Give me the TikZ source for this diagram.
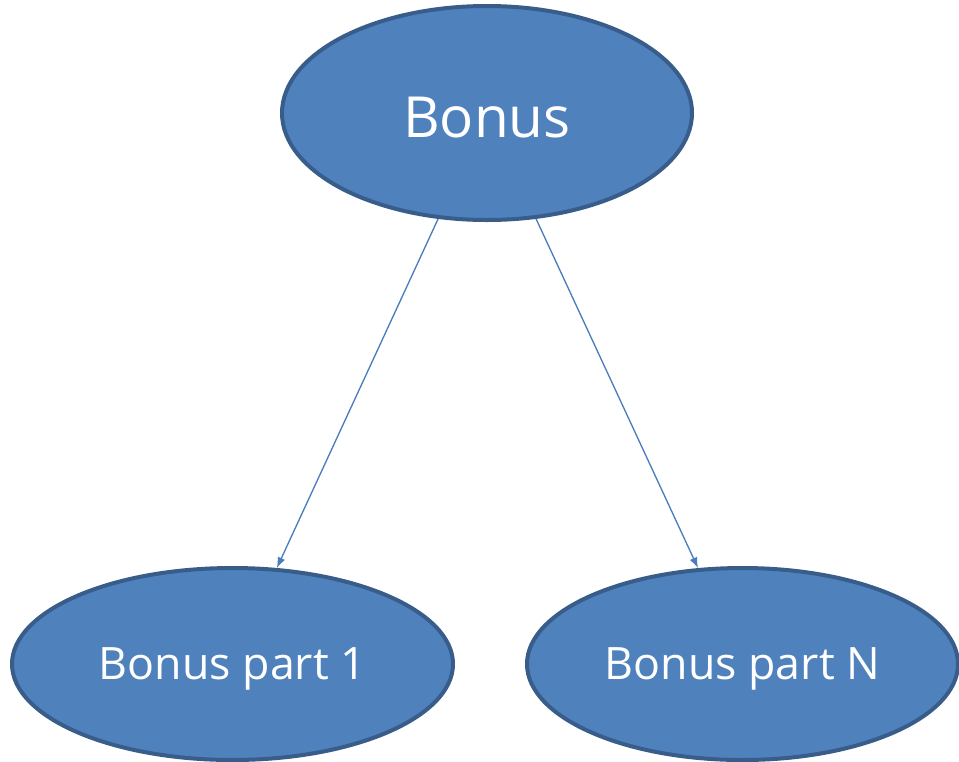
\documentclass[tikz,border=0pt]{standalone}
\usepackage{fontspec}
\setmainfont{Open Sans}
\usetikzlibrary{shapes.geometric,arrows.meta}
\definecolor{fillblue}{HTML}{4F81BD}
\definecolor{edgeblue}{HTML}{385D8A}
\definecolor{arrowblue}{HTML}{4A7EBB}
\newcommand{\lowered}[2]{\smash{\raisebox{-#1}{#2}}\vphantom{#2}}
\tikzset{
  oval/.style={ellipse, fill=fillblue, draw=edgeblue, line width=3pt, inner sep=0pt, text=white},
  link/.style={draw=arrowblue, line width=1pt, -{Latex[length=8pt,width=6pt]}}
}
\begin{document}
\begin{tikzpicture}[x=0.75pt,y=-0.75pt]
\useasboundingbox (0,0) rectangle (959,761);
\node[oval, minimum width=410*0.75pt, minimum height=214*0.75pt, font=\fontsize{42.5}{46}\selectfont] (top) at (487,113) {\lowered{3.5pt}{Bonus}};
\node[oval, minimum width=441*0.75pt, minimum height=192*0.75pt, font=\fontsize{33.5}{37}\selectfont] (left) at (232.5,664) {\lowered{4pt}{Bonus part 1}};
\node[oval, minimum width=431*0.75pt, minimum height=192*0.75pt, font=\fontsize{33.5}{37}\selectfont] (right) at (742.5,664) {\lowered{4pt}{Bonus part N}};
\draw[link] (top) -- (left);
\draw[link] (top) -- (right);
\end{tikzpicture}
\end{document}
